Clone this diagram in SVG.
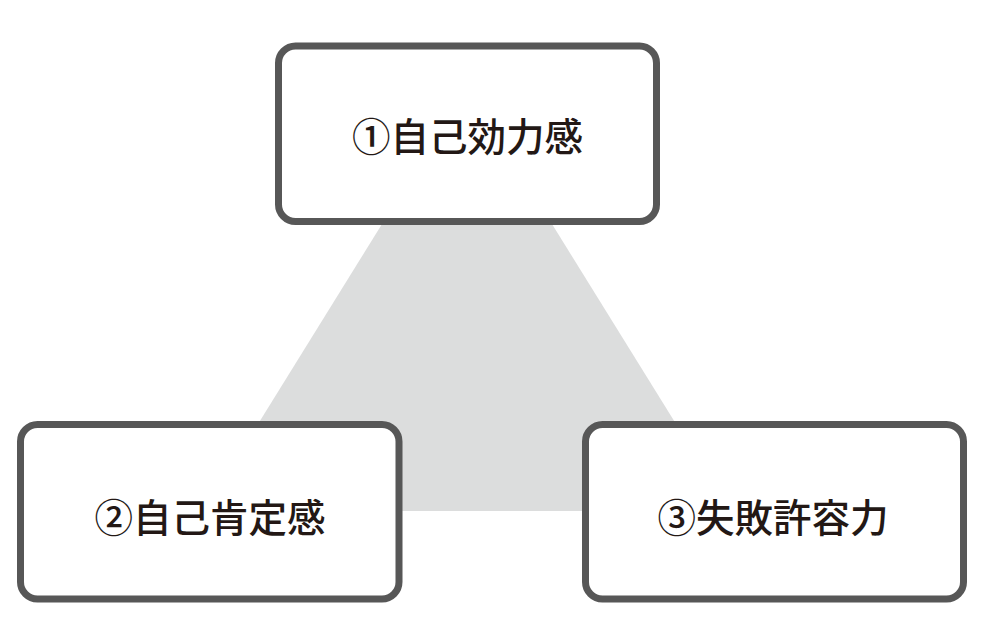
<svg xmlns="http://www.w3.org/2000/svg" width="991" height="623" viewBox="0 0 991 623">
  <style>
    .box { fill: #ffffff; stroke: #575757; stroke-width: 7; }
    .label { font-family: "Noto Sans CJK JP", "Noto Sans CJK SC", sans-serif; font-size: 38.5px; font-weight: 500; fill: #231815; text-anchor: middle; }
  </style>
  <rect width="991" height="623" fill="#ffffff"/>
  <g id="connectors">
    <polygon points="467,87 204,511 730,511" fill="#dcdddd"/>
  </g>
  <g id="node1">
    <rect class="box" x="278.5" y="46" width="378" height="175.5" rx="17" ry="17"/>
    <text class="label" x="467.5" y="151">①自己効力感</text>
  </g>
  <g id="node2">
    <rect class="box" x="20.5" y="424.5" width="378.5" height="174.5" rx="17" ry="17"/>
    <text class="label" x="210" y="532">②自己肯定感</text>
  </g>
  <g id="node3">
    <rect class="box" x="585.5" y="424.5" width="378" height="174.5" rx="17" ry="17"/>
    <text class="label" x="773" y="532">③失敗許容力</text>
  </g>
</svg>
